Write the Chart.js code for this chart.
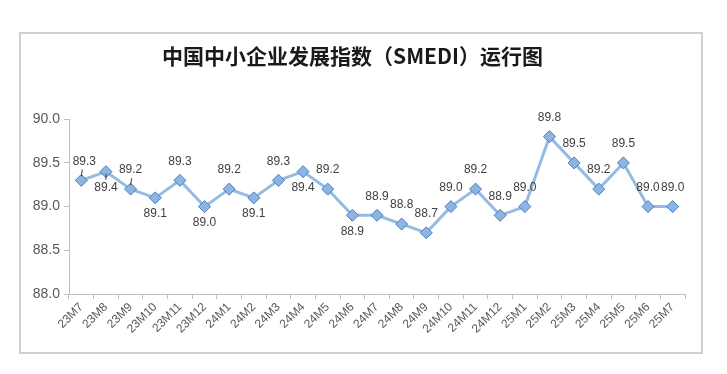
<!DOCTYPE html>
<html>
<head>
<meta charset="utf-8">
<script src="https://cdn.jsdelivr.net/npm/chart.js@4/dist/chart.umd.min.js"></script>
<style>
  html, body { margin: 0; padding: 0; background: #ffffff; }
  #wrap { position: relative; width: 727px; height: 374px; }
</style>
</head>
<body>
<div id="wrap"><canvas id="c" width="727" height="374"></canvas></div>
<script>
// ---- data ----
const categories = ["23M7","23M8","23M9","23M10","23M11","23M12",
  "24M1","24M2","24M3","24M4","24M5","24M6","24M7","24M8","24M9","24M10","24M11","24M12",
  "25M1","25M2","25M3","25M4","25M5","25M6","25M7"];
const smediValues = [89.3,89.4,89.2,89.1,89.3,89.0,89.2,89.1,89.3,89.4,89.2,88.9,88.9,88.8,88.7,
  89.0,89.2,88.9,89.0,89.8,89.5,89.2,89.5,89.0,89.0];
const yTicks = [88.0, 88.5, 89.0, 89.5, 90.0];
const titleText = "中国中小企业发展指数（SMEDI）运行图";

// label placement (style, separate from data)
const labelsBelow = new Set([1,3,5,7,9,11]);
const leaderIdx = new Set([0,1,2]);

const frameAndLabels = {
  id: 'frameAndLabels',
  beforeDraw(chart) {
    const ctx = chart.ctx;
    ctx.save();
    ctx.fillStyle = '#ffffff';
    ctx.fillRect(0, 0, chart.width, chart.height);
    ctx.strokeStyle = '#d0d0d0';
    ctx.lineWidth = 2;
    ctx.strokeRect(20, 33, 682, 320);
    ctx.restore();
  },
  afterDatasetsDraw(chart) {
    const ctx = chart.ctx;
    const meta = chart.getDatasetMeta(0);
    const ds = chart.data.datasets[0].data;
    ctx.save();
    ctx.font = '12px "Liberation Sans", Arial, sans-serif';
    ctx.fillStyle = '#404040';
    ctx.textAlign = 'center';
    ctx.textBaseline = 'middle';
    meta.data.forEach((pt, i) => {
      const below = labelsBelow.has(i);
      const dy = below ? 16 : -19;
      const tx = pt.x + (i === 0 ? 3 : 0);
      ctx.fillText(ds[i].toFixed(1), tx, pt.y + dy);
      if (leaderIdx.has(i)) {
        ctx.strokeStyle = '#404040';
        ctx.lineWidth = 1;
        ctx.beginPath();
        if (below) {
          ctx.moveTo(pt.x, pt.y + 2); ctx.lineTo(pt.x, pt.y + 8);
        } else {
          ctx.moveTo(pt.x + 1, pt.y - 11); ctx.lineTo(pt.x, pt.y - 4);
        }
        ctx.stroke();
      }
    });
    ctx.restore();
  }
};

new Chart(document.getElementById('c'), {
  type: 'line',
  data: {
    labels: categories,
    datasets: [{
      data: smediValues,
      borderColor: '#95bbe3',
      borderWidth: 3,
      tension: 0,
      pointStyle: 'rectRot',
      pointRadius: 6,
      pointHoverRadius: 6,
      pointBackgroundColor: '#8db4e2',
      pointBorderColor: '#4a7ebb',
      pointBorderWidth: 1
    }]
  },
  options: {
    responsive: false,
    animation: false,
    devicePixelRatio: 1,
    layout: { padding: { left: 20, right: 42, top: 33, bottom: 20 } },
    plugins: {
      legend: { display: false },
      tooltip: { enabled: false },
      title: {
        display: true,
        text: titleText,
        color: '#1a1a1a',
        font: { family: '"Noto Sans CJK SC", sans-serif', size: 21, weight: 'bold', lineHeight: 1.2 },
        padding: { top: 10, bottom: 51 }
      }
    },
    scales: {
      x: {
        offset: true,
        grid: { display: true, drawOnChartArea: false, drawTicks: true, tickLength: 5, offset: true, color: '#bfbfbf' },
        border: { display: true, color: '#bfbfbf', width: 1 },
        ticks: {
          color: '#595959',
          font: { family: '"Liberation Sans", Arial, sans-serif', size: 12 },
          minRotation: 45, maxRotation: 45, autoSkip: false, padding: 1
        },
        afterFit(scale) { scale.height = 60; }
      },
      y: {
        min: 88, max: 90,
        afterBuildTicks(scale) { scale.ticks = yTicks.map(v => ({ value: v })); },
        grid: { display: true, drawOnChartArea: false, drawTicks: true, tickLength: 5, color: '#bfbfbf' },
        border: { display: true, color: '#bfbfbf', width: 1 },
        ticks: {
          color: '#595959',
          font: { family: '"Liberation Sans", Arial, sans-serif', size: 14 },
          padding: 4,
          callback: v => Number(v).toFixed(1)
        },
        afterFit(scale) { scale.width = 49; }
      }
    }
  },
  plugins: [frameAndLabels]
});
</script>
</body>
</html>
